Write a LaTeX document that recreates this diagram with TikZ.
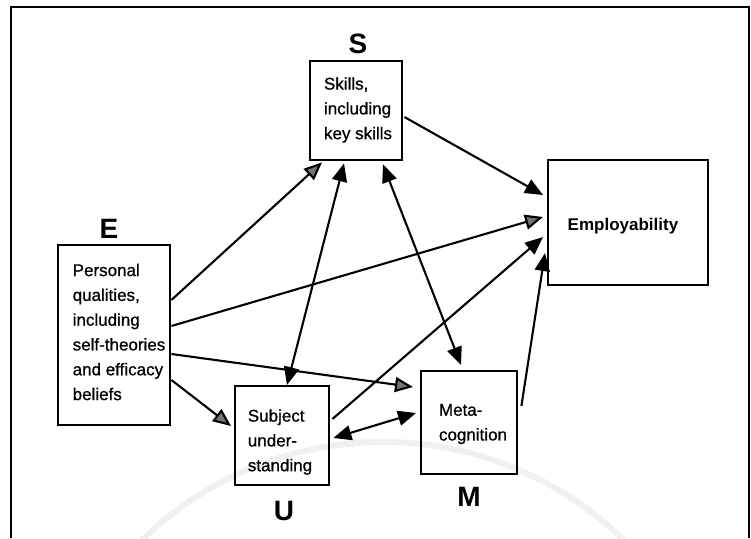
\documentclass[tikz,border=0pt]{standalone}
\usepackage{fontspec}
\setmainfont{Liberation Sans}
\newfontfamily\scanfont[FakeBold=0.8]{Liberation Sans}
\usetikzlibrary{arrows.meta,calc}
\begin{document}
\begin{tikzpicture}[x=1pt,y=-1pt,
  box/.style={draw, line width=2.4pt, inner sep=0pt, anchor=north west},
  boxtext/.style={font=\scanfont\fontsize{17}{24.8}\selectfont, align=left, inner sep=0pt},
  letter/.style={font=\fontsize{28}{30}\selectfont\bfseries, inner sep=0pt},
  link/.style={line width=2.1pt, -{Triangle[length=18pt,width=15pt]}},
  graytip/.style={-{Triangle[length=18pt,width=15pt,fill=black!55]}},
  both/.style={line width=2.1pt, {Triangle[length=18pt,width=15pt]}-{Triangle[length=18pt,width=15pt]}}
]
\useasboundingbox (0,0) rectangle (751,538);

% faint seal in the background
\begin{scope}
  \clip (0,0) rectangle (751,538);
  \draw[gray!12, line width=6pt] (383,787) circle[radius=345];
\end{scope}

% outer frame
\draw[line width=2pt] (11,538) -- (11,7) -- (749,7) -- (749,538);

% boxes
\node[box, minimum width=92pt, minimum height=99pt]  (S) at (309,60)  {};
\node[box, minimum width=112pt, minimum height=180pt] (E) at (57,244)  {};
\node[box, minimum width=160pt, minimum height=125pt] (P) at (547,159) {};
\node[box, minimum width=94pt, minimum height=99pt]  (U) at (234,385) {};
\node[box, minimum width=96pt, minimum height=103pt] (M) at (420,370) {};

% box texts
\node[boxtext] (Stext) at (358,110) {Skills,\\including\\key skills};
\node[boxtext] (Etext) at (119,332) {Personal\\qualities,\\including\\self-theories\\and efficacy\\beliefs};
\node[boxtext, font=\fontsize{17}{24.8}\selectfont\bfseries] (Ptext) at (623,226) {Employability};
\node[boxtext] (Utext) at (280,442) {Subject\\under-\\standing};
\node[boxtext] (Mtext) at (473,424) {Meta-\\cognition};

% letters
\node[letter] (Slab) at (358,44)  {S};
\node[letter] (Elab) at (109,229) {E};
\node[letter] (Ulab) at (284,511) {U};
\node[letter] (Mlab) at (469,497) {M};

% connectors from E
\draw[link, graytip] ($(E.north east)+(0,56)$)  -- ($(S.south west)+(13,1)$);
\draw[link, graytip] ($(E.north east)+(0,82)$)  -- ($(P.north west)+(-4,58)$);
\draw[link, graytip] ($(E.north east)+(0,110)$) -- ($(M.north west)+(-7,17)$);
\draw[link, graytip] ($(E.north east)+(0,136)$) -- ($(U.north west)+(-3,41)$);

% two-way links
\draw[both] ($(S.south west)+(35,2)$) -- ($(U.north west)+(53,0)$);
\draw[both] ($(S.south west)+(74,3)$) -- ($(M.north west)+(41,-5)$);
\draw[both] ($(U.north east)+(3,53)$) -- ($(M.north west)+(-4,43)$);

% links into Employability
\draw[link] ($(S.north east)+(1,57)$)  -- ($(P.north west)+(-4,36)$);
\draw[link] ($(U.north east)+(2,34)$)  -- ($(P.north west)+(-4,78)$);
\draw[link] ($(M.north east)+(3,36)$)  -- ($(P.north west)+(-2,94)$);
\end{tikzpicture}
\end{document}
